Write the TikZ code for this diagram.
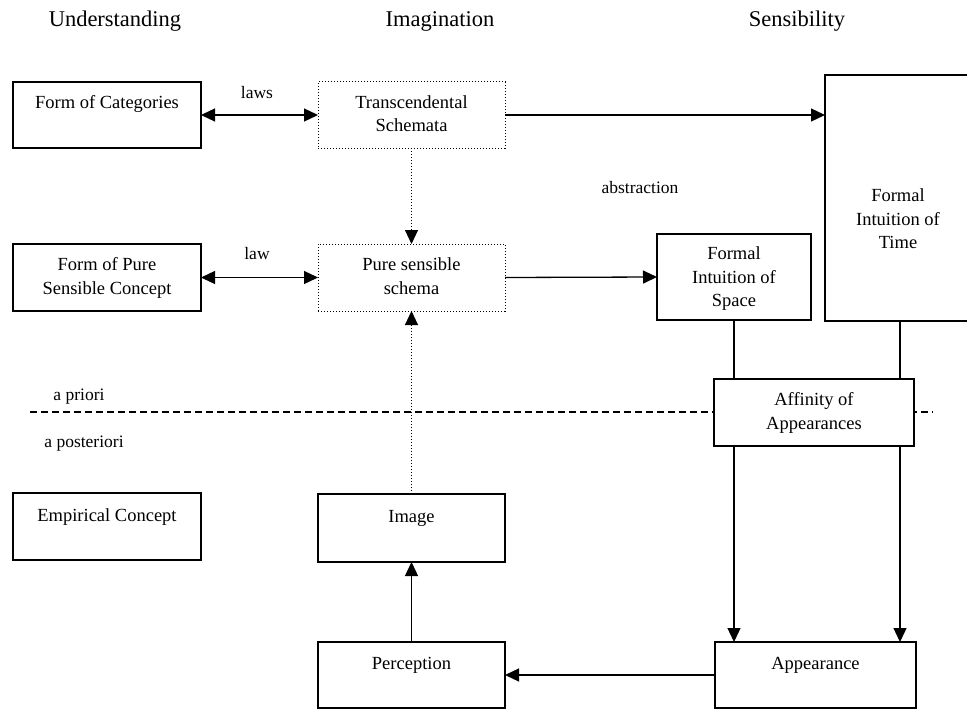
\documentclass[tikz,border=0pt]{standalone}
\usepackage{fontspec}
\setmainfont{Liberation Serif}
\usetikzlibrary{arrows.meta}
\newcommand\ml[1]{\vtop{\halign{\hfil##\hfil\cr#1\crcr}}}
\begin{document}
\begin{tikzpicture}[x=1pt,y=-1pt,
  box/.style={draw, line width=1.3pt, fill=white, inner sep=0pt, outer sep=0pt},
  dotbox/.style={draw, line width=1pt, dash pattern=on 1.2pt off 1.8pt, fill=white, inner sep=0pt, outer sep=0pt},
  txt/.style={anchor=base, inner sep=0pt, font=\fontsize{18.5}{23.5}\selectfont},
  hdr/.style={anchor=base, inner sep=0pt, font=\fontsize{22.5}{27}\selectfont},
  lbl/.style={anchor=base, inner sep=0pt, font=\fontsize{17.5}{21}\selectfont},
  conn/.style={line width=1.3pt},
  tip/.tip={Triangle[length=14pt,width=13pt]},
  arr/.style={conn, -tip},
  darr/.style={conn, tip-tip},
  dotarr/.style={line width=1pt, dash pattern=on 1.2pt off 1.8pt, -tip},
]
\useasboundingbox (0,0) rectangle (967,709);
\clip (0,0) rectangle (967,709);

% a priori / a posteriori divider
\coordinate (dl) at (30,412);
\coordinate (dr) at (933,412);
\draw[conn, dash pattern=on 7pt off 4pt] (dl) -- (dr);

% headers
\node[hdr] (hU) at (115,27) {Understanding};
\node[hdr] (hI) at (440,27) {Imagination};
\node[hdr] (hS) at (797,27) {Sensibility};

% boxes
\node[box, minimum width=188pt, minimum height=66pt] (cat) at (107,115) {};
\node[box, minimum width=188pt, minimum height=67pt] (pfc) at (107,277.5) {};
\node[box, minimum width=188pt, minimum height=67pt] (emp) at (107,526.5) {};
\node[dotbox, minimum width=187pt, minimum height=66pt] (ts) at (411.5,115) {};
\node[dotbox, minimum width=187pt, minimum height=67pt] (pss) at (411.5,277.5) {};
\node[box, minimum width=187pt, minimum height=68pt] (img) at (411.5,528) {};
\node[box, minimum width=187pt, minimum height=66pt] (perc) at (411.5,675) {};
\node[box, minimum width=154pt, minimum height=86pt] (space) at (734,277) {};
\node[box, minimum width=150pt, minimum height=246pt] (time) at (900,198) {};
\node[box, minimum width=200pt, minimum height=67pt] (aff) at (814,412.5) {};
\node[box, minimum width=201pt, minimum height=66pt] (app) at (815.5,675) {};

% box texts
\node[txt] (catT) at (107,108.5) {Form of Categories};
\node[txt] (pfcT) at (107,270.5) {\ml{Form of Pure\cr Sensible Concept}};
\node[txt] (empT) at (107,521.5) {Empirical Concept};
\node[txt] (tsT) at (411.5,108.5) {\ml{Transcendental\cr Schemata}};
\node[txt] (pssT) at (411.5,270.5) {\ml{Pure sensible\cr schema}};
\node[txt] (imgT) at (411.5,522.5) {Image};
\node[txt] (percT) at (411.5,669.5) {Perception};
\node[txt] (spaceT) at (734,259.5) {\ml{Formal\cr Intuition of\cr Space}};
\node[txt] (timeT) at (898,201.5) {\ml{Formal\cr Intuition of\cr Time}};
\node[txt] (affT) at (814,405.5) {\ml{Affinity of\cr Appearances}};
\node[txt] (appT) at (815.5,669.5) {Appearance};

% free labels
\node[lbl] (lLaws) at (257,99) {laws};
\node[lbl] (lLaw) at (257,259) {law};
\node[lbl] (lAbs) at (640,193) {abstraction};
\node[lbl] (lPri) at (79,400) {a priori};
\node[lbl] (lPost) at (84,447) {a posteriori};

% connectors
\draw[darr] (cat.east) -- (ts.west);
\draw[darr] (pfc.east) -- (pss.west);
\draw[arr] (ts.east) -- (ts.east -| time.west);
\draw[dotarr] (ts.south) -- (pss.north);
\draw[arr] (pss.east) -- (space.west);
\draw[dotarr] (img.north) -- (pss.south);
\draw[arr] (perc.north) -- (img.south);
\draw[conn] (space.south) -- (space.south |- aff.north);
\draw[conn] (time.south) -- (time.south |- aff.north);
\draw[arr] (aff.south -| space.south) -- (app.north -| space.south);
\draw[arr] (aff.south -| time.south) -- (app.north -| time.south);
\draw[arr] (app.west) -- (perc.east);
\end{tikzpicture}
\end{document}
